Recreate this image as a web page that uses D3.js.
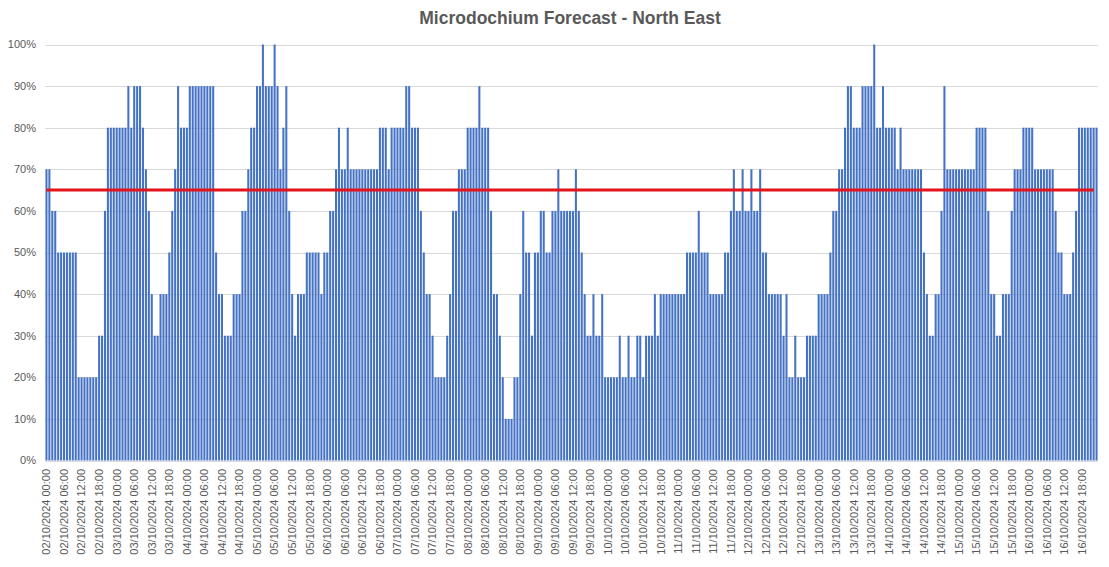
<!DOCTYPE html>
<html><head><meta charset="utf-8">
<script src="https://cdn.jsdelivr.net/npm/d3@7/dist/d3.min.js"></script>
<style>
body{margin:0;background:#fff}
svg{display:block}
text{font-family:"Liberation Sans",Arial,sans-serif}
</style>
</head><body>
<svg id="chart" width="1109" height="567"></svg>
<script>
// ---- DATA (hourly % values, one array per day) ----
const title = "Microdochium Forecast - North East";
const dayLabels = ["02","03","04","05","06","07","08","09","10","11","12","13","14","15","16"];
const hourLabels = ["00:00","01:00","02:00","03:00","04:00","05:00","06:00","07:00","08:00","09:00","10:00","11:00",
                    "12:00","13:00","14:00","15:00","16:00","17:00","18:00","19:00","20:00","21:00","22:00","23:00"];
const day02 = [70,70,60,60,50,50,50,50,50,50,50,20,20,20,20,20,20,20,30,30,60,80,80,80];
const day03 = [80,80,80,80,90,80,90,90,90,80,70,60,40,30,30,40,40,40,50,60,70,90,80,80];
const day04 = [80,90,90,90,90,90,90,90,90,90,50,40,40,30,30,30,40,40,40,60,60,70,80,80];
const day05 = [90,90,100,90,90,90,100,90,70,80,90,60,40,30,40,40,40,50,50,50,50,50,40,50];
const day06 = [50,60,60,70,80,70,70,80,70,70,70,70,70,70,70,70,70,70,80,80,80,70,80,80];
const day07 = [80,80,80,90,90,80,80,80,60,50,40,40,30,20,20,20,20,30,40,60,60,70,70,70];
const day08 = [80,80,80,80,90,80,80,80,60,40,40,30,20,10,10,10,20,20,40,60,50,50,30,50];
const day09 = [50,60,60,50,50,60,60,70,60,60,60,60,60,70,60,50,40,30,30,40,30,30,40,20];
const day10 = [20,20,20,20,30,20,20,30,20,20,30,30,20,30,30,30,40,30,40,40,40,40,40,40];
const day11 = [40,40,40,50,50,50,50,60,50,50,50,40,40,40,40,40,50,50,60,70,60,60,70,60];
const day12 = [60,70,60,60,70,50,50,40,40,40,40,40,30,40,20,20,30,20,20,20,30,30,30,30];
const day13 = [40,40,40,40,50,60,60,70,70,80,90,90,80,80,80,90,90,90,90,100,80,80,90,80];
const day14 = [80,80,80,70,80,70,70,70,70,70,70,70,50,40,30,30,40,40,60,90,70,70,70,70];
const day15 = [70,70,70,70,70,70,80,80,80,80,60,40,40,30,30,40,40,40,60,70,70,70,80,80];
const day16 = [80,80,70,70,70,70,70,70,70,60,50,50,40,40,40,50,60,80,80,80,80,80,80,80];
const threshold = 65;
const yTicks = [0,10,20,30,40,50,60,70,80,90,100];
const labelEvery = 6;

// ---- BUILD ----
const dayValues = [day02,day03,day04,day05,day06,day07,day08,day09,day10,day11,day12,day13,day14,day15,day16];
const data = [];
dayLabels.forEach((d, di) => {
  hourLabels.forEach((h, hi) => {
    data.push({cat: `${d}/10/2024 ${h}`, v: dayValues[di][hi]});
  });
});

const svg = d3.select("#chart");
const M = {left: 45, right: 1098, top: 44.5, bottom: 460.5};

const x = d3.scaleBand().domain(data.map(d => d.cat)).range([M.left, M.right])
  .paddingInner(0.3).paddingOuter(0.15);
const y = d3.scaleLinear().domain([0, 100]).range([M.bottom, M.top]);

// title
svg.append("text").attr("x", 570).attr("y", 24).attr("text-anchor", "middle")
  .attr("font-size", 17.5).attr("font-weight", "bold").attr("fill", "#595959").text(title);

// gridlines
svg.append("g").selectAll("line").data(yTicks.filter(t => t > 0)).join("line")
  .attr("x1", M.left).attr("x2", M.right)
  .attr("y1", d => Math.round(y(d)) + 0.5).attr("y2", d => Math.round(y(d)) + 0.5)
  .attr("stroke", "#d9d9d9").attr("stroke-width", 1);

// y labels
svg.append("g").selectAll("text").data(yTicks).join("text")
  .attr("x", 36).attr("y", d => y(d)).attr("dy", "0.35em").attr("text-anchor", "end")
  .attr("font-size", 11).attr("fill", "#595959").text(d => d + "%");

// bars
svg.append("g").selectAll("rect").data(data).join("rect")
  .attr("x", d => x(d.cat)).attr("width", x.bandwidth())
  .attr("y", d => y(d.v)).attr("height", d => y(0) - y(d.v))
  .attr("fill", "#4472c4");

// x axis line
svg.append("line").attr("x1", M.left).attr("x2", M.right)
  .attr("y1", Math.round(y(0)) + 0.5).attr("y2", Math.round(y(0)) + 0.5)
  .attr("stroke", "#d9d9d9").attr("stroke-width", 1);

// x labels
const cats = x.domain();
svg.append("g").selectAll("text").data(cats.filter((c, i) => i % labelEvery === 0)).join("text")
  .attr("transform", d => `translate(${x(d) + x.bandwidth() / 2},469) rotate(-90)`)
  .attr("text-anchor", "end").attr("dy", "0.35em")
  .attr("font-size", 11).attr("fill", "#595959").text(d => d);

// threshold line
const first = cats[0], last = cats[cats.length - 2];
svg.append("line")
  .attr("x1", x(first) + x.bandwidth() / 2).attr("x2", x(last) + x.bandwidth() / 2)
  .attr("y1", y(threshold)).attr("y2", y(threshold))
  .attr("stroke", "#e3141b").attr("stroke-width", 3);
</script>
</body></html>
